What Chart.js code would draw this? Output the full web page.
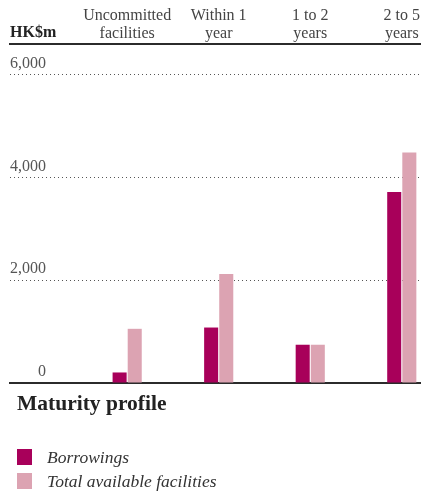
<!DOCTYPE html>
<html>
<head>
<meta charset="utf-8">
<script src="https://cdn.jsdelivr.net/npm/chart.js@4.4.1/dist/chart.umd.min.js"></script>
<style>
  html, body { margin: 0; padding: 0; background: #fff; }
  body { width: 421px; height: 492px; position: relative; overflow: hidden; font-family: "Liberation Serif", serif; }
  #maturityChart { position: absolute; left: 0; top: 0; }
  .chart-title { position: absolute; left: 17px; top: 393px; font-size: 21.5px; line-height: 21px; font-weight: bold; color: #222; white-space: nowrap; }
  .legend-item { position: absolute; left: 17px; height: 17px; white-space: nowrap; }
  .legend-item .swatch { position: absolute; left: 0; top: 0; width: 15px; height: 16px; }
  .legend-item .txt { position: absolute; left: 30px; top: 0; font-size: 17.5px; line-height: 17px; font-style: italic; color: #333; }
</style>
</head>
<body>
<canvas id="maturityChart" width="421" height="395"></canvas>
<div class="chart-title" id="chartTitle"></div>
<div id="legendBox"></div>

<script>
/* ── 만기 구조 데이터 ── */
var categories = [
  ['Uncommitted', 'facilities'],
  ['Within 1', 'year'],
  ['1 to 2', 'years'],
  ['2 to 5', 'years']
];
var borrowings = [205, 1080, 745, 3720];
var totalFacilities = [1055, 2120, 745, 4490];
var yTicks = [0, 2000, 4000, 6000];
var seriesNames = ['Borrowings', 'Total available facilities'];
var seriesColors = ['#a8005a', '#dca3b2'];
var unitText = 'HK$m';
var titleText = 'Maturity profile';

var serif = '"Liberation Serif", "Times New Roman", serif';

function toPoints(arr) {
  return arr.map(function(v, i) { return { x: i, y: v }; });
}

/* ── 단위 표기 (HK$m) ── */
var unitLabel = {
  id: 'unitLabel',
  afterDraw: function(chart) {
    var ctx = chart.ctx;
    ctx.save();
    ctx.font = 'bold 16px ' + serif;
    ctx.fillStyle = '#222';
    ctx.textAlign = 'left';
    ctx.textBaseline = 'alphabetic';
    ctx.fillText(unitText, 10, 37);
    ctx.restore();
  }
};

new Chart(document.getElementById('maturityChart').getContext('2d'), {
  type: 'bar',
  data: {
    datasets: [{
      label: seriesNames[0],
      data: toPoints(borrowings),
      backgroundColor: seriesColors[0],
      borderWidth: 0
    }, {
      label: seriesNames[1],
      data: toPoints(totalFacilities),
      backgroundColor: seriesColors[1],
      borderWidth: 0
    }]
  },
  options: {
    responsive: false,
    animation: false,
    categoryPercentage: 0.33,
    barPercentage: 0.93,
    layout: { padding: { top: 6, left: 10, right: 0, bottom: 12 } },
    plugins: {
      legend: { display: false },
      tooltip: { enabled: false }
    },
    scales: {
      x: {
        type: 'linear',
        position: 'top',
        offset: false,
        min: -1.28,
        max: 3.2,
        afterBuildTicks: function(axis) {
          axis.ticks = categories.map(function(_, i) { return { value: i }; });
        },
        grid: { display: false, drawTicks: false, offset: false },
        border: { display: true, color: '#2b2b2b', width: 2 },
        ticks: {
          padding: 1,
          maxRotation: 0,
          autoSkip: false,
          color: '#444',
          font: { family: serif, size: 16, lineHeight: 1.125 },
          callback: function(v) { return categories[v]; }
        }
      },
      xBase: {
        type: 'linear',
        position: 'bottom',
        offset: false,
        min: -1.28,
        max: 3.2,
        grid: { display: false, drawTicks: false, offset: false },
        border: { display: true, color: '#2b2b2b', width: 2 },
        ticks: { display: false }
      },
      y: {
        min: 0,
        max: 6600,
        afterBuildTicks: function(axis) {
          axis.ticks = yTicks.map(function(v) { return { value: v }; });
        },
        grid: { color: '#555', lineWidth: 1, drawTicks: false },
        border: { display: false, dash: [1, 3] },
        ticks: {
          mirror: true,
          crossAlign: 'far',
          padding: 0,
          labelOffset: -11,
          color: '#555',
          font: { family: serif, size: 16 },
          callback: function(v) { return v.toLocaleString('en-US'); }
        }
      }
    }
  },
  plugins: [unitLabel]
});

/* ── 제목 / 범례 ── */
document.getElementById('chartTitle').textContent = titleText;
var legendTops = [449, 473];
document.getElementById('legendBox').innerHTML = seriesNames.map(function(name, i) {
  return '<div class="legend-item" style="top:' + legendTops[i] + 'px">' +
    '<span class="swatch" style="background:' + seriesColors[i] + '"></span>' +
    '<span class="txt">' + name + '</span></div>';
}).join('');
</script>
</body>
</html>
